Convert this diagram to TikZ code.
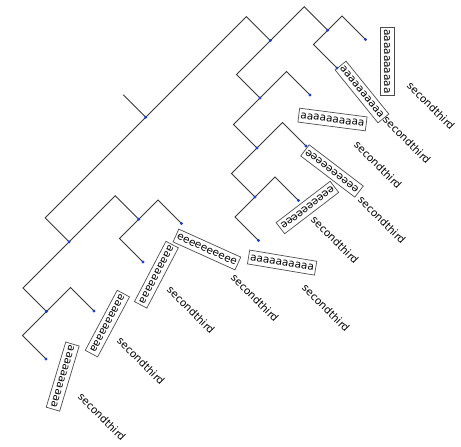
\documentclass[tikz,border=0pt]{standalone}
\usepackage{fontspec}
\setmainfont{DejaVu Sans}
\usetikzlibrary{calc}
\definecolor{dotblue}{RGB}{25,65,215}
\definecolor{edgecol}{RGB}{55,55,55}
\newcommand\dbranch[2]{\draw[treeline] let \p1=(#1), \p2=(#2) in (#1) -- ({(\x1-(\y1)+\x2+\y2)/2},{(\x2+\y2-(\x1)+\y1)/2}) -- (#2);}
\begin{document}
\begin{tikzpicture}[x=1pt,y=-1pt,
  treeline/.style={draw=edgecol, line width=0.8pt},
  lbox/.style={draw=black!70, line width=0.7pt, minimum width=68pt, minimum height=14pt, inner sep=0pt, font=\fontsize{10.5}{12}\selectfont},
  ltext/.style={inner sep=0pt, font=\fontsize{10.5}{12}\selectfont, rotate=-45}]
\useasboundingbox (0,0) rectangle (461,447);
% tree points (pixel coordinates)
\coordinate (stub) at (123.25,94.75);
\coordinate (root) at (145.75,117.25);
\coordinate (A) at (270.375,40.625);
\coordinate (B) at (69.125,241.875);
\coordinate (A1) at (260,98);
\coordinate (A2) at (327.75,30.25);
\coordinate (B1) at (46.5,311.5);
\coordinate (B2) at (138.75,219.25);
\coordinate (A1a) at (257,148);
\coordinate (A1a1) at (255,197);
\coordinate (L1) at (46,359);
\coordinate (L2) at (94,311);
\coordinate (L3) at (143,262);
\coordinate (L4) at (181.5,223.5);
\coordinate (L5) at (258.5,240.5);
\coordinate (L6) at (298.5,200.5);
\coordinate (L7) at (306,146);
\coordinate (L8) at (310,95);
\coordinate (L9) at (337,68);
\coordinate (L10) at (365.5,39.5);
% edges
\draw[treeline] (stub) -- (root);
\dbranch{root}{A}
\dbranch{root}{B}
\dbranch{B}{B1}
\dbranch{B}{B2}
\dbranch{B1}{L1}
\dbranch{B1}{L2}
\dbranch{B2}{L3}
\dbranch{B2}{L4}
\dbranch{A}{A1}
\dbranch{A}{A2}
\dbranch{A2}{L9}
\dbranch{A2}{L10}
\dbranch{A1}{A1a}
\dbranch{A1}{L8}
\dbranch{A1a}{A1a1}
\dbranch{A1a}{L7}
\dbranch{A1a1}{L5}
\dbranch{A1a1}{L6}
% dots
\foreach \n in {root,A,B,A1,A2,B1,B2,A1a,A1a1,L1,L2,L3,L4,L5,L6,L7,L8,L9,L10}
  \fill[dotblue] (\n) circle (1.6pt);
% boxed labels
\node[lbox, rotate=-106.7] (b1) at (62.7,376.6) {aaaaaaaaaa};
\node[lbox, rotate=-118] (b2) at (107.4,323.6) {aaaaaaaaaa};
\node[lbox, rotate=-117.6] (b3) at (156.4,274.7) {aaaaaaaaaa};
\node[lbox, rotate=-24.3] (b4) at (206.9,249.5) {eeeeeeeeee};
\node[lbox, rotate=-9.5] (b5) at (282.1,262.6) {aaaaaaaaaa};
\node[lbox, rotate=-142.6] (b6) at (307.4,207.5) {eeeeeeeeee};
\node[lbox, rotate=142.7] (b7) at (332,171) {eeeeeeeeee};
\node[lbox, rotate=-7.4] (b8) at (332.5,119.5) {aaaaaaaaaa};
\node[lbox, rotate=-51] (b9) at (362,92) {aaaaaaaaaa};
\node[lbox, rotate=-90] (b10) at (387,61.5) {aaaaaaaaaa};
% second labels
\node[ltext] (t1) at (102,417) {secondthird};
\node[ltext] (t2) at (141,361) {secondthird};
\node[ltext] (t3) at (191,310) {secondthird};
\node[ltext] (t4) at (255,298) {secondthird};
\node[ltext] (t5) at (326,308) {secondthird};
\node[ltext] (t6) at (335,240) {secondthird};
\node[ltext] (t7) at (382,220) {secondthird};
\node[ltext] (t8) at (378,165) {secondthird};
\node[ltext] (t9) at (407,140) {secondthird};
\node[ltext] (t10) at (431,106) {secondthird};
\end{tikzpicture}
\end{document}
